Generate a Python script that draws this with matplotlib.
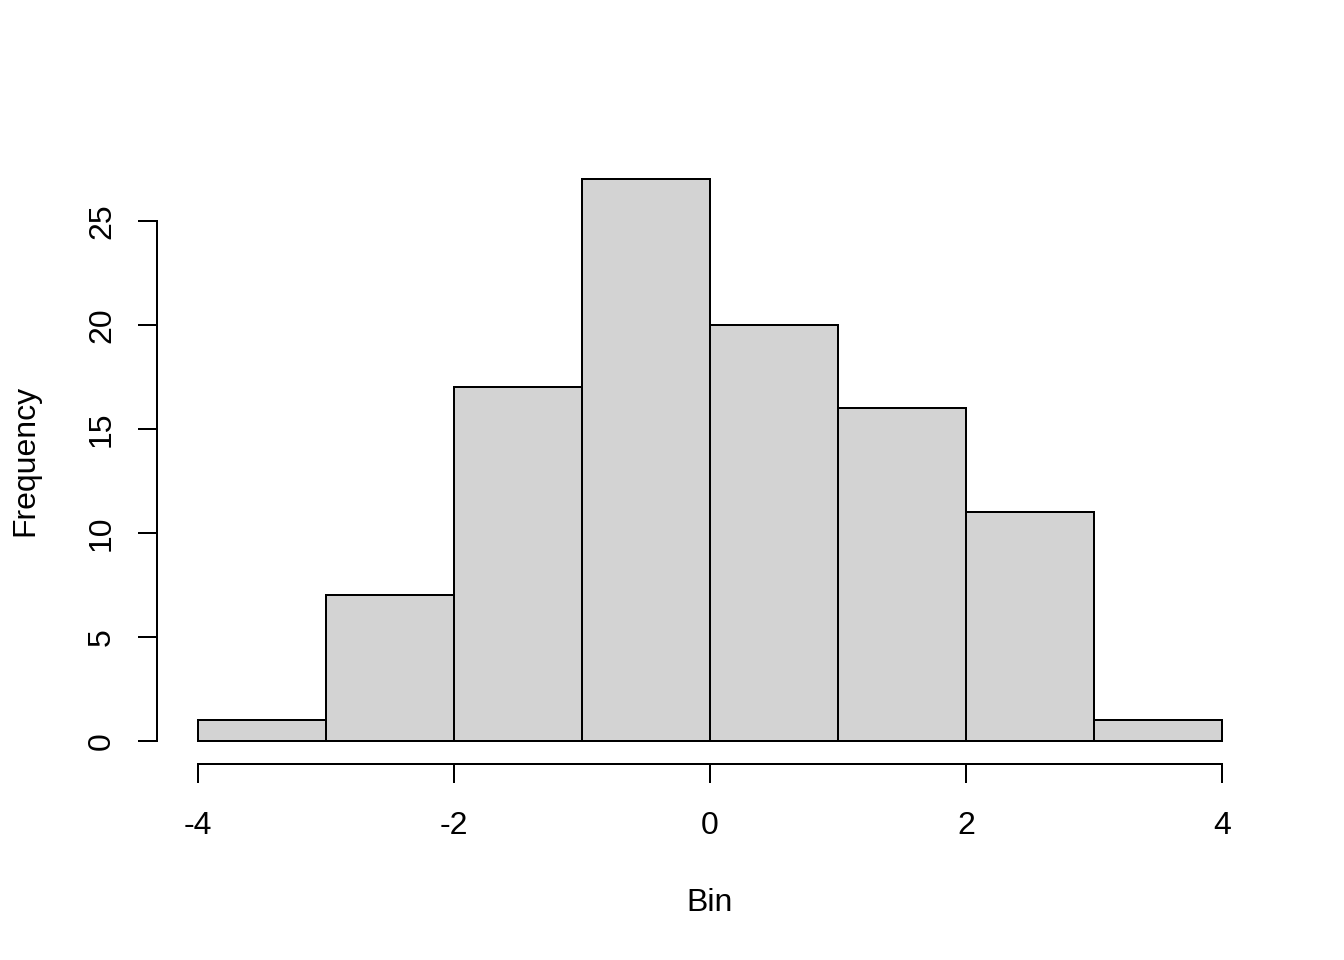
import matplotlib
matplotlib.use("Agg")
import matplotlib.pyplot as plt
import numpy as np

plt.rcParams['font.family'] = ['Liberation Sans', 'DejaVu Sans']

bin_edges = [-4, -3, -2, -1, 0, 1, 2, 3, 4]
counts = [1, 7, 17, 27, 20, 16, 11, 1]
x_ticks = [-4, -2, 0, 2, 4]
y_ticks = [0, 5, 10, 15, 20, 25]

fig = plt.figure(figsize=(13.44, 9.6), dpi=100)
ax = fig.add_axes([157/1344, 1 - 763.5/960, (1263 - 157)/1344, (763.5 - 157)/960])

lw = 1.44
lefts = np.array(bin_edges[:-1])
widths = np.diff(bin_edges)
ax.bar(lefts, counts, width=widths, align='edge', color='#D3D3D3',
       edgecolor='black', linewidth=lw)

ax.set_xlim(-4.32, 4.32)
ax.set_ylim(-1.08, 28.08)
for s in ['top', 'right']:
    ax.spines[s].set_visible(False)
ax.spines['left'].set_bounds(0, 25)
ax.spines['bottom'].set_bounds(-4, 4)
ax.spines['left'].set_linewidth(lw)
ax.spines['bottom'].set_linewidth(lw)

ax.set_xticks(x_ticks)
ax.set_xticklabels([str(v) for v in x_ticks])
ax.set_yticks(y_ticks)
ax.set_yticklabels([str(v) for v in y_ticks], rotation=90, va='center')
ax.tick_params(axis='both', length=13.8, width=lw, labelsize=23, direction='out')
ax.tick_params(axis='x', pad=20.5)
ax.tick_params(axis='y', pad=15)

ax.set_xlabel('Bin', fontsize=23)
ax.set_ylabel('Frequency', fontsize=23)
ax.xaxis.set_label_coords(710/1344, 1 - 903/960, transform=fig.transFigure)
ax.yaxis.set_label_coords(25/1344, 1 - 460/960, transform=fig.transFigure)
ax.xaxis.label.set_va('center')
ax.yaxis.label.set_va('center')

fig.savefig('out.png', dpi=100)
